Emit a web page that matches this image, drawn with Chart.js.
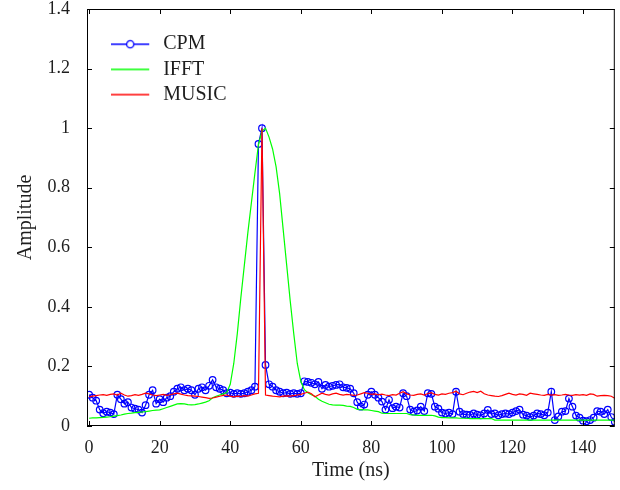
<!DOCTYPE html>
<html>
<head>
<meta charset="utf-8">
<script src="https://cdn.jsdelivr.net/npm/chart.js@4.4.1/dist/chart.umd.min.js"></script>
<style>
    html, body { margin: 0; padding: 0; background: #fff; }
    #wrap { width: 620px; height: 490px; }
</style>
</head>
<body>
<div id="wrap"><canvas id="chart" width="620" height="490"></canvas></div>
<script>
// Zeitraster in ns (1 ns Schritt)
const time = Array.from({ length: 150 }, (_, i) => i);

const cpm = [
    0.105, 0.095, 0.085, 0.055, 0.043, 0.048, 0.045, 0.040, 0.105, 0.090,
    0.075, 0.080, 0.062, 0.058, 0.055, 0.045, 0.070, 0.105, 0.120, 0.075,
    0.090, 0.080, 0.095, 0.100, 0.115, 0.125, 0.130, 0.120, 0.125, 0.120,
    0.105, 0.125, 0.130, 0.120, 0.135, 0.155, 0.130, 0.125, 0.120, 0.110,
    0.112, 0.108, 0.110, 0.108, 0.110, 0.115, 0.120, 0.132, 0.947, 1.000,
    0.205, 0.140, 0.132, 0.120, 0.115, 0.110, 0.112, 0.108, 0.110, 0.108,
    0.110, 0.150, 0.148, 0.145, 0.140, 0.148, 0.125, 0.138, 0.132, 0.135,
    0.138, 0.140, 0.130, 0.128, 0.125, 0.110, 0.080, 0.065, 0.072, 0.105,
    0.115, 0.105, 0.095, 0.082, 0.055, 0.088, 0.060, 0.065, 0.062, 0.110,
    0.100, 0.055, 0.048, 0.052, 0.065, 0.050, 0.110, 0.108, 0.065, 0.058,
    0.045, 0.042, 0.045, 0.040, 0.115, 0.048, 0.040, 0.038, 0.037, 0.042,
    0.038, 0.036, 0.042, 0.054, 0.040, 0.042, 0.036, 0.040, 0.042, 0.040,
    0.045, 0.050, 0.055, 0.038, 0.035, 0.030, 0.035, 0.042, 0.040, 0.036,
    0.045, 0.115, 0.020, 0.032, 0.048, 0.050, 0.092, 0.065, 0.035, 0.028,
    0.018, 0.016, 0.020, 0.028, 0.050, 0.048, 0.040, 0.055, 0.030, 0.014
];

const ifft = [
    0.026, 0.027, 0.027, 0.028, 0.029, 0.030, 0.031, 0.033, 0.035, 0.037,
    0.040, 0.042, 0.043, 0.045, 0.046, 0.047, 0.048, 0.050, 0.052, 0.053,
    0.054, 0.058, 0.062, 0.066, 0.070, 0.074, 0.075, 0.074, 0.072, 0.071,
    0.072, 0.074, 0.077, 0.080, 0.085, 0.095, 0.100, 0.104, 0.108, 0.112,
    0.140, 0.210, 0.310, 0.430, 0.540, 0.650, 0.750, 0.850, 0.945, 0.990,
    1.000, 0.970, 0.930, 0.870, 0.780, 0.660, 0.540, 0.420, 0.310, 0.210,
    0.150, 0.122, 0.112, 0.105, 0.100, 0.090, 0.083, 0.078, 0.073, 0.071,
    0.070, 0.070, 0.069, 0.067, 0.066, 0.062, 0.056, 0.055, 0.054, 0.054,
    0.052, 0.050, 0.048, 0.043, 0.042, 0.042, 0.042, 0.042, 0.042, 0.042,
    0.042, 0.038, 0.037, 0.036, 0.036, 0.036, 0.036, 0.036, 0.034, 0.030,
    0.028, 0.028, 0.027, 0.027, 0.027, 0.026, 0.026, 0.026, 0.025, 0.025,
    0.025, 0.025, 0.025, 0.025, 0.025, 0.020, 0.020, 0.020, 0.020, 0.020,
    0.020, 0.020, 0.020, 0.020, 0.020, 0.020, 0.020, 0.020, 0.020, 0.020,
    0.020, 0.020, 0.020, 0.020, 0.020, 0.020, 0.020, 0.020, 0.020, 0.020,
    0.020, 0.020, 0.020, 0.020, 0.020, 0.020, 0.020, 0.020, 0.020, 0.020
];

const music = [
    0.098, 0.100, 0.102, 0.104, 0.105, 0.103, 0.106, 0.108, 0.104, 0.110,
    0.104, 0.100, 0.102, 0.105, 0.103, 0.106, 0.110, 0.108, 0.104, 0.102,
    0.104, 0.106, 0.103, 0.105, 0.108, 0.110, 0.107, 0.104, 0.102, 0.101,
    0.100, 0.099, 0.097, 0.095, 0.093, 0.094, 0.097, 0.100, 0.103, 0.104,
    0.100, 0.098, 0.100, 0.099, 0.102, 0.100, 0.104, 0.108, 0.110, 1.000,
    0.104, 0.102, 0.100, 0.099, 0.098, 0.100, 0.101, 0.100, 0.102, 0.104,
    0.106, 0.110, 0.114, 0.108, 0.098, 0.104, 0.110, 0.106, 0.104, 0.108,
    0.110, 0.106, 0.104, 0.106, 0.105, 0.103, 0.104, 0.108, 0.112, 0.110,
    0.106, 0.108, 0.105, 0.107, 0.104, 0.102, 0.105, 0.104, 0.110, 0.115,
    0.108, 0.104, 0.103, 0.106, 0.108, 0.104, 0.109, 0.112, 0.106, 0.104,
    0.108, 0.106, 0.110, 0.112, 0.117, 0.108, 0.105, 0.110, 0.114, 0.116,
    0.112, 0.117, 0.108, 0.104, 0.102, 0.100, 0.099, 0.102, 0.106, 0.110,
    0.106, 0.104, 0.108, 0.106, 0.103, 0.110, 0.108, 0.106, 0.104, 0.103,
    0.106, 0.104, 0.105, 0.103, 0.104, 0.106, 0.104, 0.103, 0.105, 0.104,
    0.105, 0.103, 0.108, 0.106, 0.100, 0.102, 0.103, 0.102, 0.100, 0.093
];

const seriesNames = ['CPM', 'IFFT', 'MUSIC'];
const xTicks = [0, 20, 40, 60, 80, 100, 120, 140];
const yTicks = [0, 0.2, 0.4, 0.6, 0.8, 1, 1.2, 1.4];

const SERIF = '"Liberation Serif", "DejaVu Serif", serif';
Chart.defaults.font.family = SERIF;
Chart.defaults.color = '#1e1e1e';

// Legendensymbol: Linie, optional mit Kreis
function swatch(color, marker) {
    const c = document.createElement('canvas');
    c.width = 42;
    c.height = 12;
    const g = c.getContext('2d');
    g.strokeStyle = color;
    g.lineWidth = 1.3;
    g.beginPath();
    g.moveTo(0, 6);
    g.lineTo(38, 6);
    g.stroke();
    if (marker) {
        g.fillStyle = '#fff';
        g.beginPath();
        g.arc(19, 6, 3.6, 0, Math.PI * 2);
        g.fill();
        g.stroke();
    }
    return c;
}
const swatches = [swatch('#0000ff', true), swatch('#00ff00', false), swatch('#ff0000', false)];

// Rahmen + Ticks nach innen (MATLAB-Stil)
const framePlugin = {
    id: 'frame',
    afterDatasetsDraw(chart) {
        const { ctx, chartArea: a, scales: { x, y } } = chart;
        ctx.save();
        ctx.strokeStyle = '#000';
        ctx.lineWidth = 1;
        ctx.strokeRect(a.left + 0.5, a.top + 0.5, a.right - a.left - 1, a.bottom - a.top - 1);
        ctx.beginPath();
        const len = 5;
        xTicks.forEach(v => {
            const px = Math.round(x.getPixelForValue(v)) + 0.5;
            ctx.moveTo(px, a.bottom);
            ctx.lineTo(px, a.bottom - len);
            ctx.moveTo(px, a.top);
            ctx.lineTo(px, a.top + len);
        });
        yTicks.forEach(v => {
            const py = Math.round(y.getPixelForValue(v)) + 0.5;
            ctx.moveTo(a.left, py);
            ctx.lineTo(a.left + len, py);
            ctx.moveTo(a.right, py);
            ctx.lineTo(a.right - len, py);
        });
        ctx.stroke();
        ctx.restore();
    }
};

// Legende in die Plotfläche oben links schieben
const legendPlace = {
    id: 'legendPlace',
    afterLayout(chart) {
        const lg = chart.legend;
        const a = chart.chartArea;
        if (!lg) return;
        lg.left = a.left + 19;
        lg.top = a.top + 20;
        lg.right = lg.left + 220;
        lg.bottom = lg.top + 120;
    }
};

new Chart(document.getElementById('chart'), {
    type: 'line',
    data: {
        labels: time,
        datasets: [{
            label: seriesNames[0],
            data: cpm,
            borderColor: '#0000ff',
            borderWidth: 1.2,
            pointRadius: 3.3,
            pointBorderWidth: 1.2,
            pointBorderColor: '#0000ff',
            pointBackgroundColor: 'rgba(0,0,0,0)',
            order: 2,
        }, {
            label: seriesNames[1],
            data: ifft,
            borderColor: '#00ff00',
            borderWidth: 1.2,
            pointRadius: 0,
            order: 1,
        }, {
            label: seriesNames[2],
            data: music,
            borderColor: '#ff0000',
            borderWidth: 1.2,
            pointRadius: 0,
            order: 0,
        }],
    },
    options: {
        responsive: false,
        animation: false,
        layout: { padding: { top: 0, right: 5, left: 0, bottom: 0 } },
        plugins: {
            tooltip: { enabled: false },
            legend: {
                position: 'chartArea',
                align: 'start',
                labels: {
                    usePointStyle: true,
                    pointStyleWidth: 42,
                    padding: 5.2,
                    color: '#1e1e1e',
                    font: { size: 20, family: SERIF },
                    sort: (a, b) => a.datasetIndex - b.datasetIndex,
                    generateLabels(chart) {
                        const items = Chart.defaults.plugins.legend.labels.generateLabels(chart);
                        items.forEach(it => { it.pointStyle = swatches[it.datasetIndex]; });
                        return items;
                    },
                },
            },
        },
        scales: {
            x: {
                type: 'linear',
                min: -0.6,
                max: 149,
                afterBuildTicks: s => { s.ticks = xTicks.map(v => ({ value: v })); },
                afterFit: s => { s.height = 64; },
                grid: { display: false },
                border: { display: false },
                ticks: {
                    padding: 3,
                    maxRotation: 0,
                    font: { size: 18 },
                    callback: v => String(v),
                },
                title: {
                    display: true,
                    text: 'Time (ns)',
                    font: { size: 20 },
                    padding: { top: 0, bottom: 7 },
                },
            },
            y: {
                type: 'linear',
                min: 0,
                max: 1.4,
                afterBuildTicks: s => { s.ticks = yTicks.map(v => ({ value: v })); },
                afterFit: s => {
                    s.width = 87;
                    s.paddingTop = 9;
                    s.paddingBottom = 0;
                },
                grid: { display: false },
                border: { display: false },
                ticks: {
                    padding: 9,
                    font: { size: 18 },
                    callback: v => String(Math.round(v * 10) / 10),
                },
                title: {
                    display: true,
                    text: 'Amplitude',
                    font: { size: 20 },
                    padding: { top: 14, bottom: 0 },
                },
            },
        },
    },
    plugins: [framePlugin, legendPlace],
});
</script>
</body>
</html>
